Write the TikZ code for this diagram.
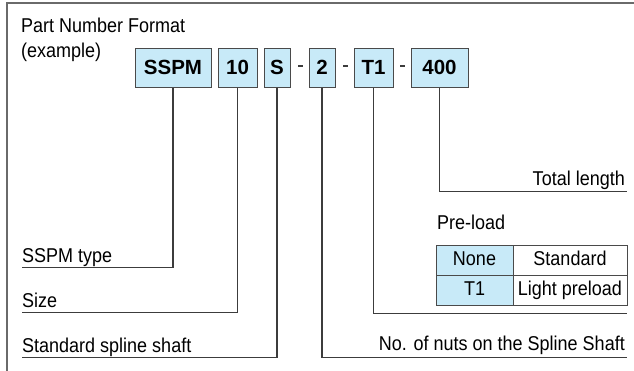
\documentclass[tikz,border=0pt]{standalone}
\usepackage{fontspec}
\setmainfont[FakeStretch=0.9]{Liberation Sans}
\newfontfamily\boxfont{Liberation Sans}
\definecolor{boxfill}{HTML}{C8EAF8}
\definecolor{boxline}{HTML}{4A4A4A}
\definecolor{conncol}{HTML}{3C3C3C}
\definecolor{framecol}{HTML}{6A6A6A}
\begin{document}
\begin{tikzpicture}[x=1pt,y=-1pt,
  pbox/.style={draw=boxline, fill=boxfill, line width=1pt, minimum height=39pt,
    inner sep=0pt, text height=14.7pt, text depth=1pt,
    font=\boxfont\bfseries\fontsize{20.5}{24}\selectfont},
  lbl/.style={inner sep=0pt, font=\fontsize{20}{24}\selectfont},
  conn/.style={draw=conncol, line width=1.1pt},
  sep/.style={fill=conncol, inner sep=0pt, minimum width=5pt, minimum height=1.1pt},
  cell/.style={draw=boxline, line width=1pt, minimum height=30pt, inner sep=0pt,
    text height=14.5pt, text depth=4pt, font=\fontsize{20}{24}\selectfont},
  cellkey/.style={cell, fill=boxfill, minimum width=77pt},
  cellval/.style={cell, fill=white, minimum width=114pt}]
\useasboundingbox (0,0) rectangle (634,370);
% frame
\draw[framecol, line width=1.4pt] (7,371) -- (7,3) -- (635,3);
% title
\node[lbl, anchor=base west] (title1) at (21,32) {Part Number Format};
\node[lbl, anchor=base west] (title2) at (21,57) {(example)};
% part number boxes
\node[pbox, minimum width=76pt] (bSSPM) at (173,67.5) {SSPM};
\node[pbox, minimum width=39pt] (b10) at (237.5,67.5) {10};
\node[pbox, minimum width=26pt] (bS) at (277,67.5) {S};
\node[sep] (d1) at (300,66) {};
\node[pbox, minimum width=26pt] (b2) at (322,67.5) {2};
\node[sep] (d2) at (345,66) {};
\node[pbox, minimum width=39pt] (bT1) at (373.5,67.5) {T1};
\node[sep] (d3) at (402,66) {};
\node[pbox, minimum width=57pt] (b400) at (439.5,67.5) {400};
% label line ends
\coordinate (eSSPM) at (22,267.7);
\coordinate (e10) at (22,312.7);
\coordinate (eS) at (22,357.7);
\coordinate (e2) at (627,357.7);
\coordinate (eT1) at (627,313.5);
\coordinate (e400) at (627,191.7);
% labels
\node[lbl, anchor=base west] (tSSPM) at (22,262) {SSPM type};
\node[lbl, anchor=base west] (t10) at (22,307) {Size};
\node[lbl, anchor=base west] (tS) at (22,352) {Standard spline shaft};
\node[lbl, anchor=base east] (t2) at (625,350) {No. of nuts on the Spline Shaft};
\node[lbl, anchor=base east] (t400) at (625,185) {Total length};
% connectors
\draw[conn] (bSSPM.south) |- (eSSPM);
\draw[conn] (b10.south) |- (e10);
\draw[conn] (bS.south) |- (eS);
\draw[conn] (b2.south) |- (e2);
\draw[conn] (bT1.south) |- (eT1);
\draw[conn] (b400.south) |- (e400);
% pre-load table
\node[lbl, anchor=base west] (tpre) at (437,229) {Pre-load};
\node[cellkey] (k1) at (474.5,260) {None};
\node[cellval] (v1) at (570,260) {Standard};
\node[cellkey] (k2) at (474.5,290) {T1};
\node[cellval] (v2) at (570,290) {Light preload};
\end{tikzpicture}
\end{document}
